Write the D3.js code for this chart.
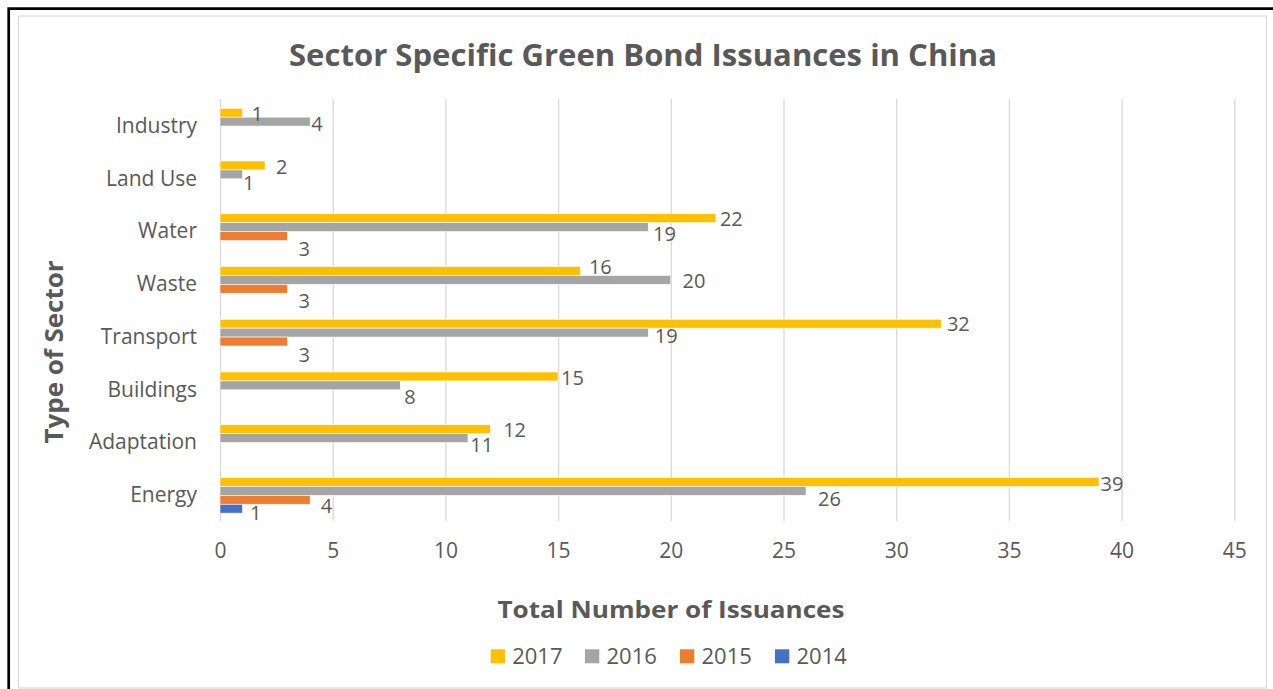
<!DOCTYPE html>
<html>
<head>
<meta charset="utf-8">
<script src="https://cdn.jsdelivr.net/npm/d3@7/dist/d3.min.js"></script>
<style>
  html, body { margin: 0; padding: 0; background: #fff; }
  svg { display: block; }
  text { font-family: "Open Sans", "Noto Sans", sans-serif; fill: #595959; }
</style>
</head>
<body>
<svg id="chart" width="1273" height="689"></svg>
<script>
// Sectors listed top to bottom
const categories = ["Industry", "Land Use", "Water", "Waste", "Transport", "Buildings", "Adaptation", "Energy"];
const years = ["2017", "2016", "2015", "2014"];
// Number of green bond issuances per sector (null = none issued)
const v2017 = [1, 2, 22, 16, 32, 15, 12, 39];
const v2016 = [4, 1, 19, 20, 19, 8, 11, 26];
const v2015 = [null, null, 3, 3, 3, null, null, 4];
const v2014 = [null, null, null, null, null, null, null, 1];
const xTicks = [0, 5, 10, 15, 20, 25, 30, 35, 40, 45];

const seriesValues = { "2017": v2017, "2016": v2016, "2015": v2015, "2014": v2014 };
const colors = { "2017": "#FFC000", "2016": "#A5A5A5", "2015": "#ED7D31", "2014": "#4472C4" };

// Hand-placed data label offsets [dx from bar end, dy from bar centre]
const labelNudge = {
  "Industry|2017": [9, 1], "Industry|2016": [1, 2.3],
  "Land Use|2017": [11, 1.5], "Land Use|2016": [0.5, 8.6],
  "Water|2017": [4, 1], "Water|2016": [4.7, 7], "Water|2015": [11, 13],
  "Waste|2017": [8.3, -4], "Waste|2016": [11.7, 1], "Waste|2015": [11, 12],
  "Transport|2017": [5.6, 0.5], "Transport|2016": [6.6, 3], "Transport|2015": [11, 13.5],
  "Buildings|2017": [3, 1.2], "Buildings|2016": [4, 11],
  "Adaptation|2017": [12.7, 1], "Adaptation|2016": [2.4, 6.5],
  "Energy|2017": [1.4, 2], "Energy|2016": [12, 8.4], "Energy|2015": [10.7, 6], "Energy|2014": [7.5, 4.6]
};

const rows = [];
categories.forEach((c, i) => {
  years.forEach(yr => {
    const v = seriesValues[yr][i];
    if (v != null) rows.push({ sector: c, year: yr, value: v });
  });
});

const svg = d3.select("#chart");

// Frame
svg.append("rect").attr("x", 18.5).attr("y", 16).attr("width", 1248).attr("height", 672)
  .attr("fill", "#fff").attr("stroke", "#D9D9D9").attr("stroke-width", 1.2);
svg.append("path").attr("d", "M8.7,689 V8.7 H1273").attr("fill", "none")
  .attr("stroke", "#000").attr("stroke-width", 2.7);

const plotTop = 99, plotBottom = 521;
const x = d3.scaleLinear().domain([0, 45]).range([220, 1234.3]);
const y = d3.scaleBand().domain(categories).range([plotTop + 0.7, plotBottom + 0.7]);
const yInner = d3.scaleBand().domain(years).range([0, y.bandwidth()]).paddingOuter(0.96);

// Vertical gridlines
const xAxis = d3.axisBottom(x).tickValues(xTicks).tickSize(-(plotBottom - plotTop)).tickPadding(22);
const gx = svg.append("g").attr("transform", `translate(0,${plotBottom})`).call(xAxis);
gx.select(".domain").remove();
gx.selectAll(".tick line").attr("stroke", "#D9D9D9").attr("stroke-width", 1.3);
gx.selectAll(".tick text").attr("font-size", 21).attr("fill", "#595959")
  .style("font-family", "'Open Sans', sans-serif");

// Category axis
const yAxis = d3.axisLeft(y).tickSize(0).tickPadding(23);
const gy = svg.append("g").attr("transform", `translate(220,0)`).call(yAxis);
gy.select(".domain").remove();
gy.selectAll(".tick text").attr("font-size", 21).attr("fill", "#595959")
  .style("font-family", "'Open Sans', sans-serif");

// Bars
svg.append("g").selectAll("rect").data(rows).join("rect")
  .attr("x", x(0))
  .attr("y", d => y(d.sector) + yInner(d.year))
  .attr("width", d => x(d.value) - x(0))
  .attr("height", yInner.bandwidth())
  .attr("fill", d => colors[d.year])
  .attr("stroke", "#fff").attr("stroke-width", 0.6);

// Data labels
const fsLabel = 20;
svg.append("g").selectAll("text").data(rows).join("text")
  .attr("x", d => x(d.value) + labelNudge[d.sector + "|" + d.year][0])
  .attr("y", d => y(d.sector) + yInner(d.year) + yInner.bandwidth() / 2
                  + labelNudge[d.sector + "|" + d.year][1] + 0.357 * fsLabel)
  .attr("font-size", fsLabel)
  .attr("fill", "#404040")
  .text(d => d.value);

// Title
svg.append("text").attr("x", 643).attr("y", 66).attr("text-anchor", "middle")
  .attr("font-size", 30).attr("font-weight", 700).attr("fill", "#595959")
  .attr("textLength", 708).attr("lengthAdjust", "spacingAndGlyphs")
  .text("Sector Specific Green Bond Issuances in China");

// Axis titles
svg.append("text").attr("x", 671).attr("y", 618).attr("text-anchor", "middle")
  .attr("font-size", 24).attr("font-weight", 700).attr("fill", "#595959")
  .attr("textLength", 347).attr("lengthAdjust", "spacingAndGlyphs")
  .text("Total Number of Issuances");

svg.append("text").attr("transform", "translate(63,352) rotate(-90)")
  .attr("text-anchor", "middle")
  .attr("font-size", 25).attr("font-weight", 700).attr("fill", "#595959")
  .attr("textLength", 183).attr("lengthAdjust", "spacingAndGlyphs")
  .text("Type of Sector");

// Legend
const legendX = [490.7, 585, 680, 775];
const lg = svg.append("g").selectAll("g").data(years).join("g")
  .attr("transform", (d, i) => `translate(${legendX[i]},649.3)`);
lg.append("rect").attr("width", 14.3).attr("height", 14).attr("fill", d => colors[d]);
lg.append("text").attr("x", 21.5).attr("y", 14.7).attr("font-size", 22).attr("fill", "#595959")
  .text(d => d);
</script>
</body>
</html>
